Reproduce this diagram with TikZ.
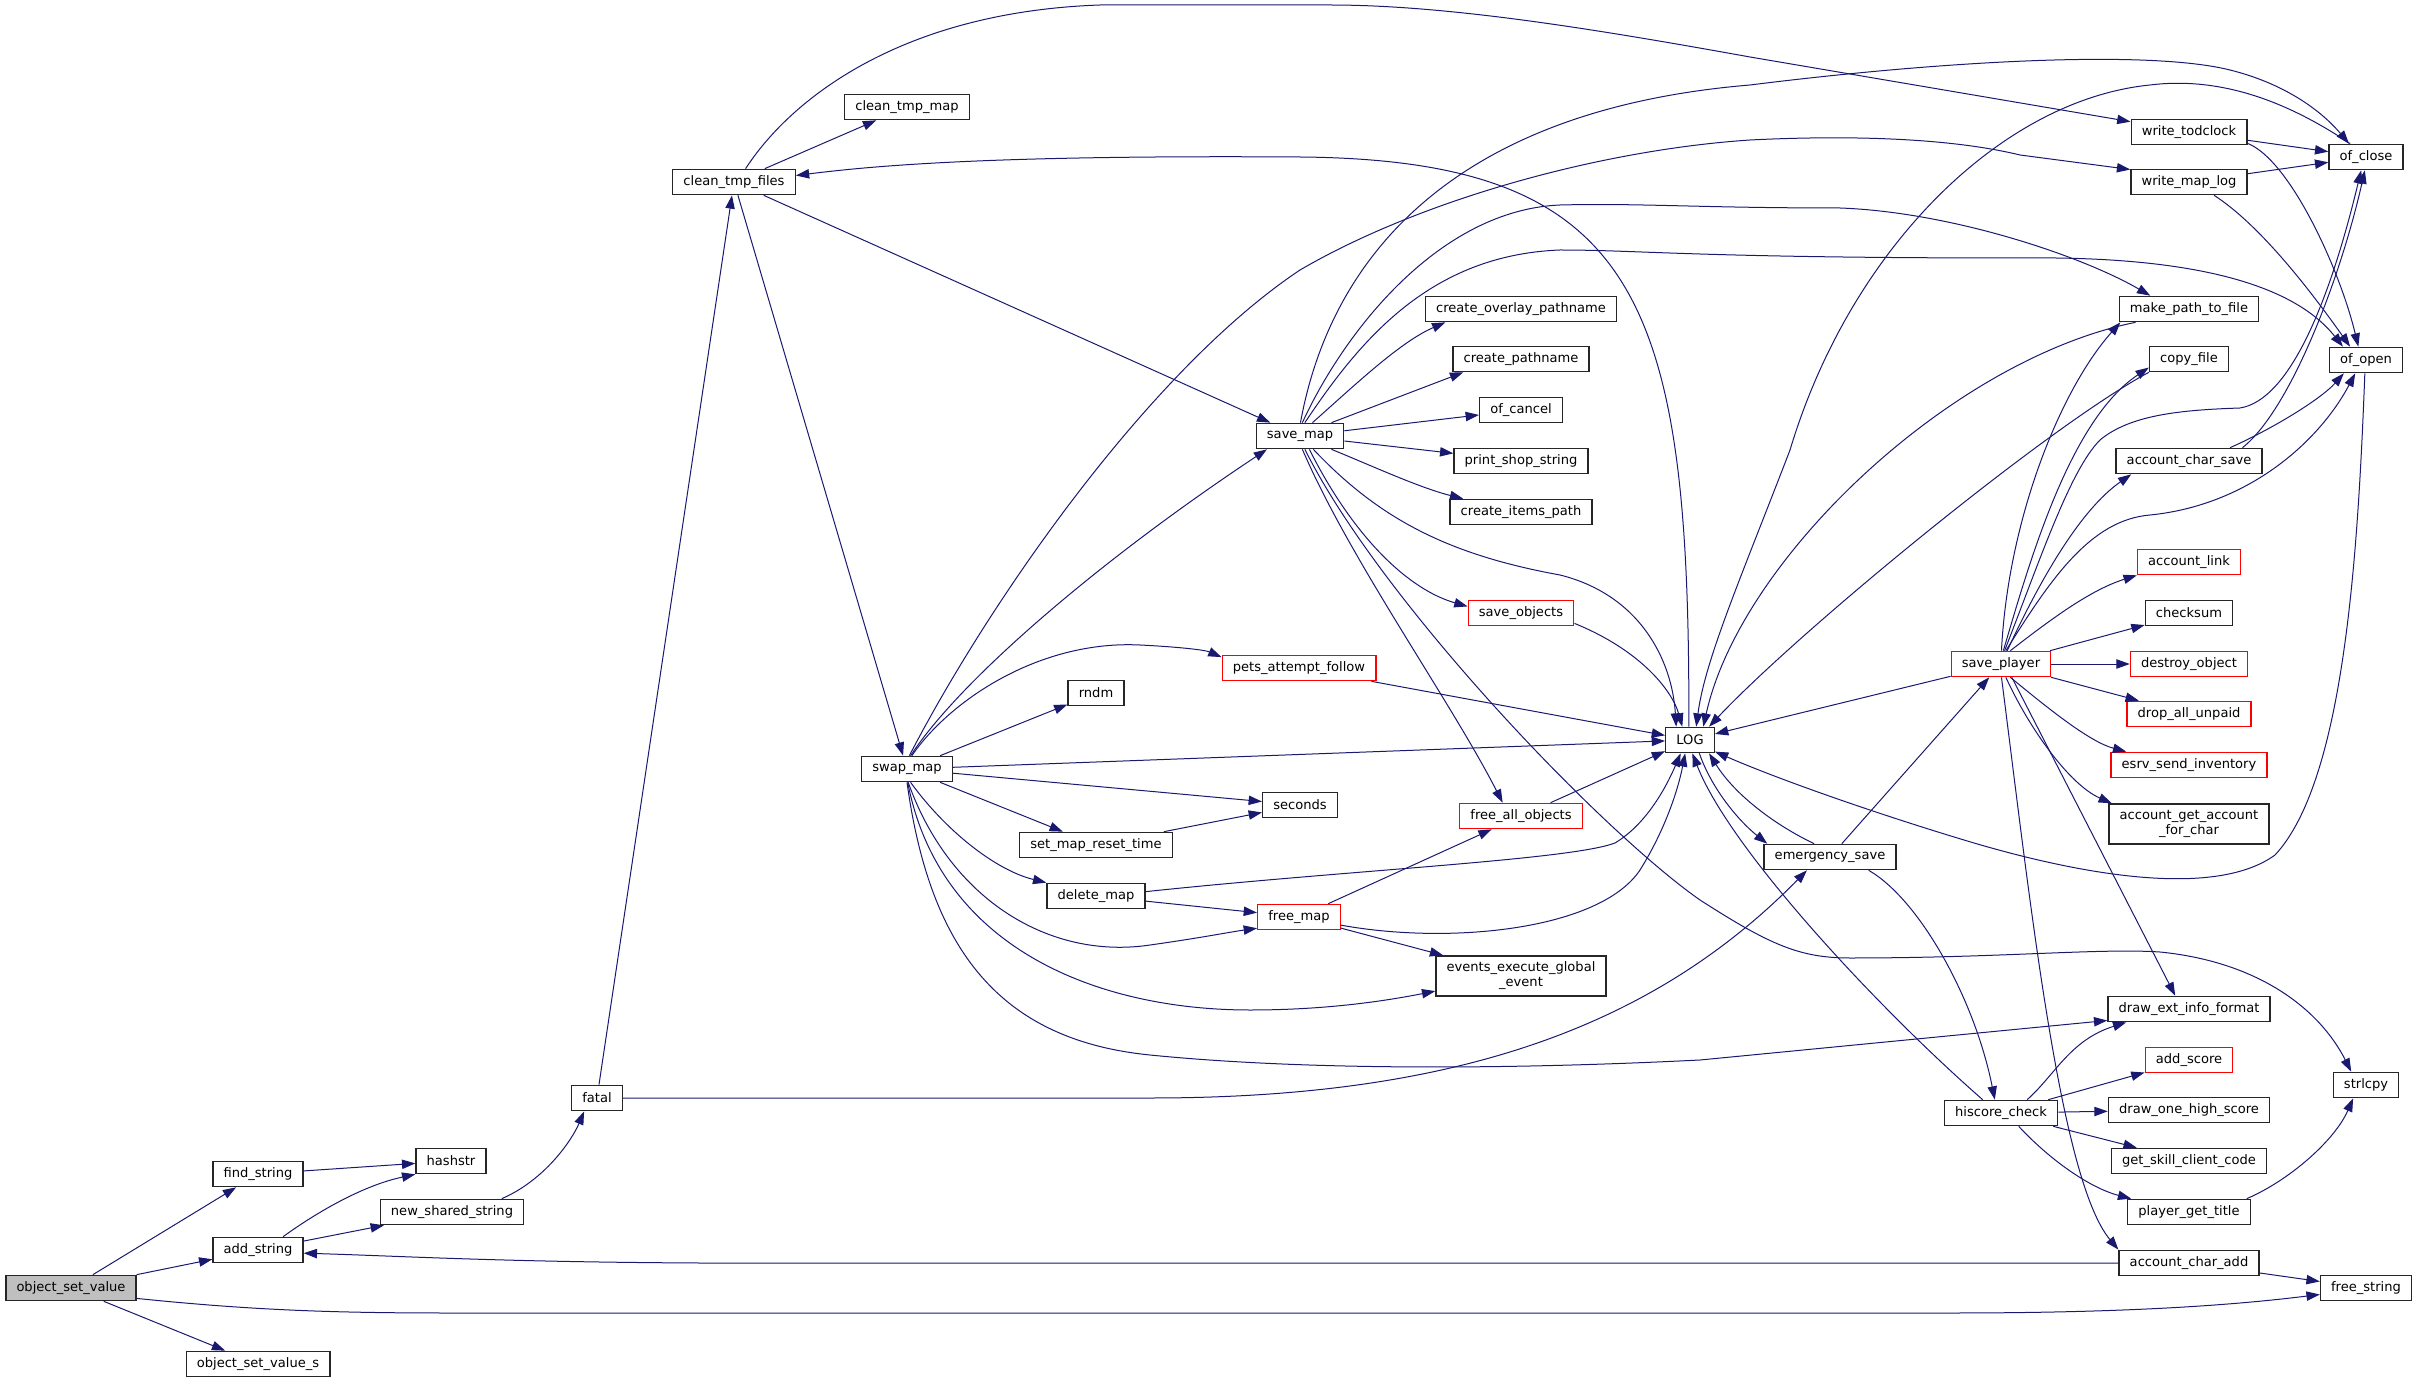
\documentclass[tikz,border=0pt]{standalone}
\usepackage{fontspec}
\setmainfont{DejaVu Sans}
\usetikzlibrary{arrows.meta}
\definecolor{edgeblue}{HTML}{191970}
\tikzset{
	fn/.style={draw=black!85, line width=1pt, fill=white, inner xsep=8pt, inner ysep=0pt, minimum height=19pt, font=\fontsize{9.8}{11.25}\selectfont, text=black},
	fnred/.style={fn, draw=red},
	fnroot/.style={fn, fill=black!25},
	fntwo/.style={fn, align=center, minimum height=30pt},
	call/.style={draw=edgeblue, line width=0.75pt, -{Triangle[length=10pt,width=7pt]}}
}

\begin{document}
\begin{tikzpicture}[x=0.75pt, y=-0.75pt]
			\useasboundingbox (0,0) rectangle (2417,1383);
			%%%%% NODES %%%%%
			
			\node[fnroot] (osv) at (71,1288) {object\_set\_value};
			\node[fn] (findstr) at (258,1174) {find\_string};
			\node[fn] (addstr) at (258,1250) {add\_string};
			\node[fn] (osvs) at (258,1364) {object\_set\_value\_s};
			\node[fn] (hashstr) at (451,1161) {hashstr};
			\node[fn] (newshared) at (452,1212) {new\_shared\_string};
			\node[fn] (fatal) at (597,1098) {fatal};
			
			\node[fn] (cleanfiles) at (734,182) {clean\_tmp\_files};
			\node[fn] (cleanmap) at (907,107) {clean\_tmp\_map};
			\node[fn] (swapmap) at (907,769) {swap\_map};
			\node[fn] (rndm) at (1096,693) {rndm};
			\node[fn] (setreset) at (1096,845) {set\_map\_reset\_time};
			\node[fn] (deletemap) at (1096,896) {delete\_map};
			
			\node[fn] (savemap) at (1300,436) {save\_map};
			\node[fnred] (pets) at (1299,668) {pets\_attempt\_follow};
			\node[fn] (seconds) at (1300,805) {seconds};
			\node[fnred] (freemap) at (1299,917) {free\_map};
			
			\node[fn] (overlay) at (1521,309) {create\_overlay\_pathname};
			\node[fn] (pathname) at (1521,359) {create\_pathname};
			\node[fn] (cancel) at (1521,410) {of\_cancel};
			\node[fn] (shop) at (1521,461) {print\_shop\_string};
			\node[fn] (items) at (1521,512) {create\_items\_path};
			\node[fnred] (saveobj) at (1521,613) {save\_objects};
			\node[fnred] (freeall) at (1521,816) {free\_all\_objects};
			\node[fntwo] (events) at (1521,976) {events\_execute\_global\\\_event};
			
			\node[fn] (LOG) at (1690,740) {LOG};
			\node[fn] (emerg) at (1830,857) {emergency\_save};
			\node[fnred] (saveplayer) at (2001,664) {save\_player};
			\node[fn] (hiscore) at (2001,1113) {hiscore\_check};
			
			\node[fn] (todclock) at (2189,132) {write\_todclock};
			\node[fn] (maplog) at (2189,182) {write\_map\_log};
			\node[fn] (mkpath) at (2189,309) {make\_path\_to\_file};
			\node[fn] (copyfile) at (2189,359) {copy\_file};
			\node[fn] (charsave) at (2189,461) {account\_char\_save};
			\node[fnred] (acclink) at (2189,562) {account\_link};
			\node[fn] (checksum) at (2189,613) {checksum};
			\node[fnred] (destroy) at (2189,664) {destroy\_object};
			\node[fnred] (dropunpaid) at (2189,714) {drop\_all\_unpaid};
			\node[fnred] (esrv) at (2189,765) {esrv\_send\_inventory};
			\node[fntwo] (getacc) at (2189,824) {account\_get\_account\\\_for\_char};
			\node[fn] (extinfo) at (2189,1009) {draw\_ext\_info\_format};
			\node[fnred] (addscore) at (2189,1060) {add\_score};
			\node[fn] (highscore) at (2189,1110) {draw\_one\_high\_score};
			\node[fn] (skill) at (2189,1161) {get\_skill\_client\_code};
			\node[fn] (title) at (2189,1212) {player\_get\_title};
			\node[fn] (charadd) at (2189,1263) {account\_char\_add};
			
			\node[fn] (ofclose) at (2366,157) {of\_close};
			\node[fn] (ofopen) at (2366,360) {of\_open};
			\node[fn] (strlcpy) at (2366,1085) {strlcpy};
			\node[fn] (freestr) at (2366,1288) {free\_string};
			
			%%%%% CALLS %%%%%
			
			\draw[call] (osv) -- (findstr);
			\draw[call] (osv) -- (addstr);
			\draw[call] (osv) -- (osvs);
			\draw[call] (osv.-9) .. controls (250,1310) and (330,1313) .. (450,1313) -- (1950,1313) .. controls (2150,1313) and (2250,1303) .. (freestr.-172);
			\draw[call] (findstr) -- (hashstr);
			\draw[call] (addstr.28) .. controls (320,1210) and (365,1185) .. (hashstr.south west);
			\draw[call] (addstr) -- (newshared);
			\draw[call] (newshared.15) .. controls (545,1180) and (572,1140) .. (fatal.-134);
			\draw[call] (fatal) -- (cleanfiles);
			\draw[call] (fatal.east) -- (1150,1098) .. controls (1450,1098) and (1650,1030) .. (emerg.-150);
			
			\draw[call] (cleanfiles) -- (cleanmap);
			\draw[call] (cleanfiles.49) .. controls (790,100) and (900,12) .. (1100,5) -- (1330,5) .. controls (1450,5) and (1600,30) .. (1750,57) -- (todclock.170);
			\draw[call] (LOG.95) .. controls (1690,300) and (1640,160) .. (1300,157) .. controls (1000,155) and (880,165) .. (cleanfiles.6);
			\draw[call] (cleanfiles) -- (savemap);
			\draw[call] (cleanfiles) -- (swapmap);
			
			\draw[call] (savemap.47) .. controls (1355,385) and (1400,342) .. (overlay.-170);
			\draw[call] (savemap.23) -- (pathname.-167);
			\draw[call] (savemap) -- (cancel);
			\draw[call] (savemap) -- (shop);
			\draw[call] (savemap.-23) .. controls (1370,465) and (1420,488) .. (items.167);
			\draw[call] (savemap.-45) .. controls (1380,520) and (1450,555) .. (1560,575) .. controls (1640,595) and (1672,660) .. (LOG.136);
			\draw[call] (savemap.-55) .. controls (1355,540) and (1410,590) .. (saveobj.173);
			\draw[call] (savemap.-80) .. controls (1350,560) and (1450,700) .. (freeall.144);
			\draw[call] (savemap.-70) .. controls (1380,600) and (1600,830) .. (1700,900) .. controls (1770,945) and (1800,958) .. (1850,958) .. controls (2000,958) and (2100,948) .. (2160,952) .. controls (2260,962) and (2320,1010) .. (strlcpy.138);
			\draw[call] (savemap.88) .. controls (1330,260) and (1450,110) .. (1750,85) .. controls (1950,60) and (2150,50) .. (2230,70) .. controls (2290,85) and (2325,115) .. (ofclose.142);
			\draw[call] (savemap.80) .. controls (1345,330) and (1440,210) .. (1560,205) .. controls (1640,203) and (1700,208) .. (1840,208) .. controls (1950,212) and (2080,255) .. (mkpath.161);
			\draw[call] (savemap.70) .. controls (1360,340) and (1430,255) .. (1560,250) .. controls (1640,250) and (1700,258) .. (2020,258) .. controls (2180,256) and (2290,280) .. (ofopen.150);
			
			\draw[call] (swapmap.75) .. controls (960,680) and (1100,560) .. (savemap.-158);
			\draw[call] (swapmap.80) .. controls (990,600) and (1150,370) .. (1300,270) .. controls (1420,200) and (1600,150) .. (1750,140) .. controls (1850,135) and (1950,138) .. (2020,155) -- (maplog.168);
			\draw[call] (swapmap.70) .. controls (950,700) and (1040,640) .. (1140,645) .. controls (1180,647) and (1205,650) .. (pets.172);
			\draw[call] (swapmap) -- (rndm);
			\draw[call] (swapmap) -- (LOG);
			\draw[call] (swapmap) -- (seconds);
			\draw[call] (swapmap) -- (setreset);
			\draw[call] (swapmap.-75) .. controls (945,830) and (995,870) .. (deletemap.north west);
			\draw[call] (swapmap.-85) .. controls (950,900) and (1050,960) .. (1150,945) .. controls (1200,938) and (1230,932) .. (freemap.195);
			\draw[call] (swapmap.-87) .. controls (940,950) and (1100,1010) .. (1250,1010) .. controls (1330,1010) and (1390,1000) .. (events.-170);
			\draw[call] (swapmap.-90) .. controls (930,950) and (1000,1040) .. (1150,1055) .. controls (1300,1070) and (1500,1070) .. (1700,1060) -- (extinfo.-172);
			
			\draw[call] (setreset) -- (seconds);
			\draw[call] (deletemap.5) .. controls (1350,870) and (1570,860) .. (1615,843) .. controls (1645,825) and (1665,790) .. (LOG.-125);
			\draw[call] (deletemap) -- (freemap);
			\draw[call] (freemap) -- (freeall);
			\draw[call] (freemap.-11) .. controls (1450,945) and (1600,930) .. (1640,870) .. controls (1665,830) and (1678,790) .. (LOG.-110);
			\draw[call] (freemap) -- (events);
			\draw[call] (freeall) -- (LOG);
			\draw[call] (pets) -- (LOG);
			\draw[call] (saveobj.-11) .. controls (1640,650) and (1672,690) .. (LOG.120);
			
			\draw[call] (ofclose.140) .. controls (2300,110) and (2230,75) .. (2150,85) .. controls (2000,100) and (1850,250) .. (1790,450) .. controls (1740,580) and (1705,660) .. (LOG.65);
			\draw[call] (mkpath.-166) .. controls (1950,360) and (1740,560) .. (LOG.45);
			\draw[call] (copyfile.south west) .. controls (2050,425) and (1800,630) .. (LOG.35);
			\draw[call] (ofopen.-95) .. controls (2358,550) and (2345,780) .. (2275,855) .. controls (2220,895) and (2100,880) .. (1974,843) .. controls (1880,815) and (1780,780) .. (LOG.-25);
			\draw[call] (saveplayer) -- (LOG);
			
			\draw[call] (LOG.-55) .. controls (1712,790) and (1740,822) .. (emerg.168);
			\draw[call] (emerg.140) .. controls (1775,825) and (1735,795) .. (LOG.-35);
			\draw[call] (emerg) -- (saveplayer);
			\draw[call] (emerg.-19) .. controls (1920,900) and (1975,1000) .. (hiscore.115);
			\draw[call] (hiscore.144) .. controls (1880,1010) and (1730,850) .. (LOG.-80);
			
			\draw[call] (saveplayer.88) .. controls (2008,520) and (2060,390) .. (mkpath.-169);
			\draw[call] (saveplayer.80) .. controls (2030,560) and (2070,420) .. (copyfile.-168);
			\draw[call] (saveplayer.75) .. controls (2040,560) and (2070,470) .. (2100,440) .. controls (2130,415) and (2180,410) .. (2240,408) .. controls (2290,400) and (2330,300) .. (ofclose.-110);
			\draw[call] (saveplayer.70) .. controls (2050,580) and (2090,520) .. (2150,515) .. controls (2250,505) and (2320,440) .. (ofopen.-129);
			\draw[call] (saveplayer.65) .. controls (2040,580) and (2080,510) .. (charsave.-167);
			\draw[call] (saveplayer.55) .. controls (2050,620) and (2090,590) .. (acclink.south west);
			\draw[call] (saveplayer) -- (checksum);
			\draw[call] (saveplayer) -- (destroy);
			\draw[call] (saveplayer) -- (dropunpaid);
			\draw[call] (saveplayer.-55) .. controls (2050,710) and (2090,742) .. (esrv.168);
			\draw[call] (saveplayer.-70) .. controls (2030,730) and (2070,785) .. (getacc.165);
			\draw[call] (saveplayer.-51) -- (extinfo.136);
			\draw[call] (saveplayer.-88) .. controls (2030,900) and (2060,1180) .. (charadd.north west);
			
			\draw[call] (hiscore.27) .. controls (2055,1075) and (2070,1040) .. (extinfo.-168);
			\draw[call] (hiscore) -- (addscore);
			\draw[call] (hiscore) -- (highscore);
			\draw[call] (hiscore) -- (skill);
			\draw[call] (hiscore.-37) .. controls (2050,1160) and (2090,1188) .. (title.167);
			\draw[call] (title.13) .. controls (2290,1180) and (2335,1140) .. (strlcpy.-134);
			\draw[call] (charadd.west) -- (700,1263) .. controls (500,1262) and (400,1256) .. (addstr.-4);
			\draw[call] (charadd) -- (freestr);
			
			\draw[call] (todclock) -- (ofclose);
			\draw[call] (todclock.-11) .. controls (2290,160) and (2340,270) .. (ofopen.120);
			\draw[call] (maplog) -- (ofclose);
			\draw[call] (maplog.-28) .. controls (2260,225) and (2310,290) .. (ofopen.140);
			\draw[call] (charsave.14) .. controls (2290,410) and (2340,280) .. (ofclose.-95);
			\draw[call] (charsave.18) .. controls (2270,430) and (2320,400) .. (ofopen.-149);
			
		\end{tikzpicture}
\end{document}
